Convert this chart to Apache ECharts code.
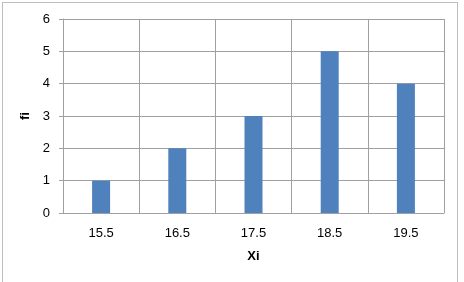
<!DOCTYPE html>
<html>
<head>
<meta charset="utf-8">
<script src="https://cdn.jsdelivr.net/npm/echarts@6/dist/echarts.min.js"></script>
<style>
html, body { margin: 0; padding: 0; background: #fff; }
#frame { position: absolute; left: 2px; top: 2px; width: 456px; height: 290px; border: 1px solid #BDBDBD; box-sizing: border-box; }
#main { position: absolute; left: 0; top: 0; width: 464px; height: 282px; }
</style>
</head>
<body>
<div id="frame"></div>
<div id="main"></div>
<script>
// datos del gráfico
var categorias = ['15.5', '16.5', '17.5', '18.5', '19.5'];
var frecuencias = [1, 2, 3, 5, 4];

var myChart = echarts.init(document.getElementById('main'));
var option = {
	animation: false,
	textStyle: { fontFamily: 'Liberation Sans' },
	grid: { left: 63, right: 20, top: 19, bottom: 69 },
	xAxis: {
		type: 'category',
		data: categorias,
		name: 'Xi',
		nameLocation: 'middle',
		nameGap: 37,
		nameTextStyle: { fontWeight: 'bold', fontSize: 13, color: '#000' },
		axisLine: { lineStyle: { color: '#A0A0A0' } },
		axisTick: { show: false },
		axisLabel: { color: '#000', fontSize: 13, margin: 14 },
		splitLine: { show: true, lineStyle: { color: '#A0A0A0' } }
	},
	yAxis: {
		type: 'value',
		min: 0,
		max: 6,
		interval: 1,
		name: 'fi',
		nameLocation: 'middle',
		nameGap: 29,
		nameTextStyle: { fontWeight: 'bold', fontSize: 13, color: '#000' },
		axisLine: { show: true, lineStyle: { color: '#A0A0A0' } },
		axisTick: { show: true, length: 4, lineStyle: { color: '#A0A0A0' } },
		axisLabel: { color: '#000', fontSize: 13, margin: 13 },
		splitLine: { show: true, lineStyle: { color: '#A0A0A0' } }
	},
	series: [
		{
			name: 'fi',
			type: 'bar',
			data: frecuencias,
			barWidth: 18,
			itemStyle: { color: '#4F81BD' }
		}
	]
};
myChart.setOption(option);
</script>
</body>
</html>
